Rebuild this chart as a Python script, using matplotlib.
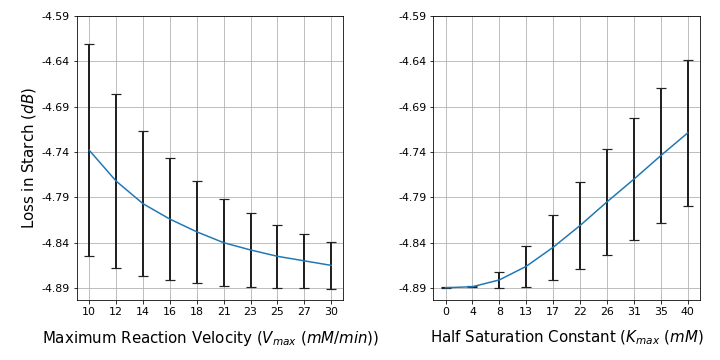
import matplotlib
matplotlib.use('Agg')
import matplotlib.pyplot as plt
from matplotlib.ticker import FormatStrFormatter
import numpy as np

# data
vmax_labels = ['10', '12', '14', '16', '18', '21', '23', '25', '27', '30']
vmax_loss = [-4.738, -4.772, -4.797, -4.814, -4.828, -4.840, -4.848, -4.855, -4.860, -4.865]
vmax_err = [0.117, 0.096, 0.080, 0.067, 0.056, 0.048, 0.041, 0.035, 0.030, 0.026]

kmax_labels = ['0', '4', '8', '13', '17', '22', '26', '31', '35', '40']
kmax_loss = [-4.8896, -4.8885, -4.881, -4.866, -4.845, -4.821, -4.795, -4.770, -4.744, -4.719]
kmax_err = [0.0003, 0.0008, 0.0087, 0.0224, 0.0358, 0.048, 0.0586, 0.0673, 0.0745, 0.0805]

yticks = [-4.59, -4.64, -4.69, -4.74, -4.79, -4.84, -4.89]

fig, axes = plt.subplots(1, 2, figsize=(10, 5), dpi=72)
fig.subplots_adjust(left=0.107, right=0.972, top=0.956, bottom=0.167, wspace=0.338)

panels = [
    (axes[0], vmax_labels, vmax_loss, vmax_err, r'Maximum Reaction Velocity ($V_{max}$ ($mM/min$))'),
    (axes[1], kmax_labels, kmax_loss, kmax_err, r'Half Saturation Constant ($K_{max}$ ($mM$)'),
]

for ax, labels, loss, err, xlabel in panels:
    x = np.arange(len(labels))
    ax.errorbar(x, loss, yerr=err, fmt='none', ecolor='#222222', elinewidth=2,
                capsize=5, capthick=1.2, zorder=2)
    ax.plot(x, loss, color='#1f77b4', linewidth=1.5, zorder=3)
    ax.set_xticks(x)
    ax.set_xticklabels(labels)
    ax.set_yticks(yticks)
    ax.yaxis.set_major_formatter(FormatStrFormatter('%.2f'))
    ax.set_ylim(-4.903, -4.59)
    ax.grid(True, color='#b0b0b0', linewidth=0.8)
    ax.set_axisbelow(True)
    ax.tick_params(labelsize=11)
    ax.set_xlabel(xlabel, fontsize=15, labelpad=12)

axes[0].set_ylabel(r'Loss in Starch ($dB$)', fontsize=15)

plt.savefig('out.png')
